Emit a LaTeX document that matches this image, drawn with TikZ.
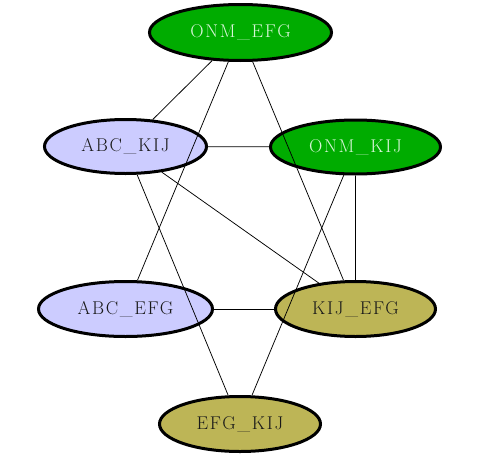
\documentclass[tikz,border=0pt]{standalone}
\usepackage{fontspec}
\setmainfont{Latin Modern Roman}
\usetikzlibrary{shapes.geometric}
\definecolor{gfill}{RGB}{0,172,0}
\definecolor{gtext}{RGB}{215,245,215}
\definecolor{lfill}{RGB}{204,204,255}
\definecolor{ofill}{RGB}{189,181,86}
\definecolor{dtext}{RGB}{25,25,25}
\tikzset{
  vnode/.style={ellipse, draw=black, line width=3pt, inner sep=0pt,
    font=\fontsize{18.5}{20}\selectfont\addfontfeatures{LetterSpace=9}},
  greennode/.style={vnode, fill=gfill, text=gtext},
  lavnode/.style={vnode, fill=lfill, text=dtext},
  olivenode/.style={vnode, fill=ofill, text=dtext},
  link/.style={draw=black, line width=0.75pt}
}
\begin{document}
\begin{tikzpicture}[x=1pt,y=-1pt]
\useasboundingbox (0,0) rectangle (500,471);
\node[greennode, minimum width=182pt, minimum height=56pt] (onmefg) at (240.5,32.5) {ONM\_EFG};
\node[lavnode, minimum width=162pt, minimum height=54pt] (abckij) at (125.5,146.5) {ABC\_KIJ};
\node[greennode, minimum width=170pt, minimum height=54pt] (onmkij) at (355.5,147) {ONM\_KIJ};
\node[lavnode, minimum width=174pt, minimum height=55pt] (abcefg) at (125.5,309) {ABC\_EFG};
\node[olivenode, minimum width=160pt, minimum height=55pt] (kijefg) at (355.5,309) {KIJ\_EFG};
\node[olivenode, minimum width=161pt, minimum height=55pt] (efgkij) at (240,424) {EFG\_KIJ};
\draw[link] (onmefg) -- (abckij);
\draw[link] (onmefg) -- (abcefg);
\draw[link] (onmefg) -- (kijefg);
\draw[link] (abckij) -- (onmkij);
\draw[link] (abckij) -- (kijefg);
\draw[link] (abckij) -- (efgkij);
\draw[link] (onmkij) -- (efgkij);
\draw[link] (onmkij) -- (kijefg);
\draw[link] (abcefg) -- (kijefg);
\end{tikzpicture}
\end{document}
